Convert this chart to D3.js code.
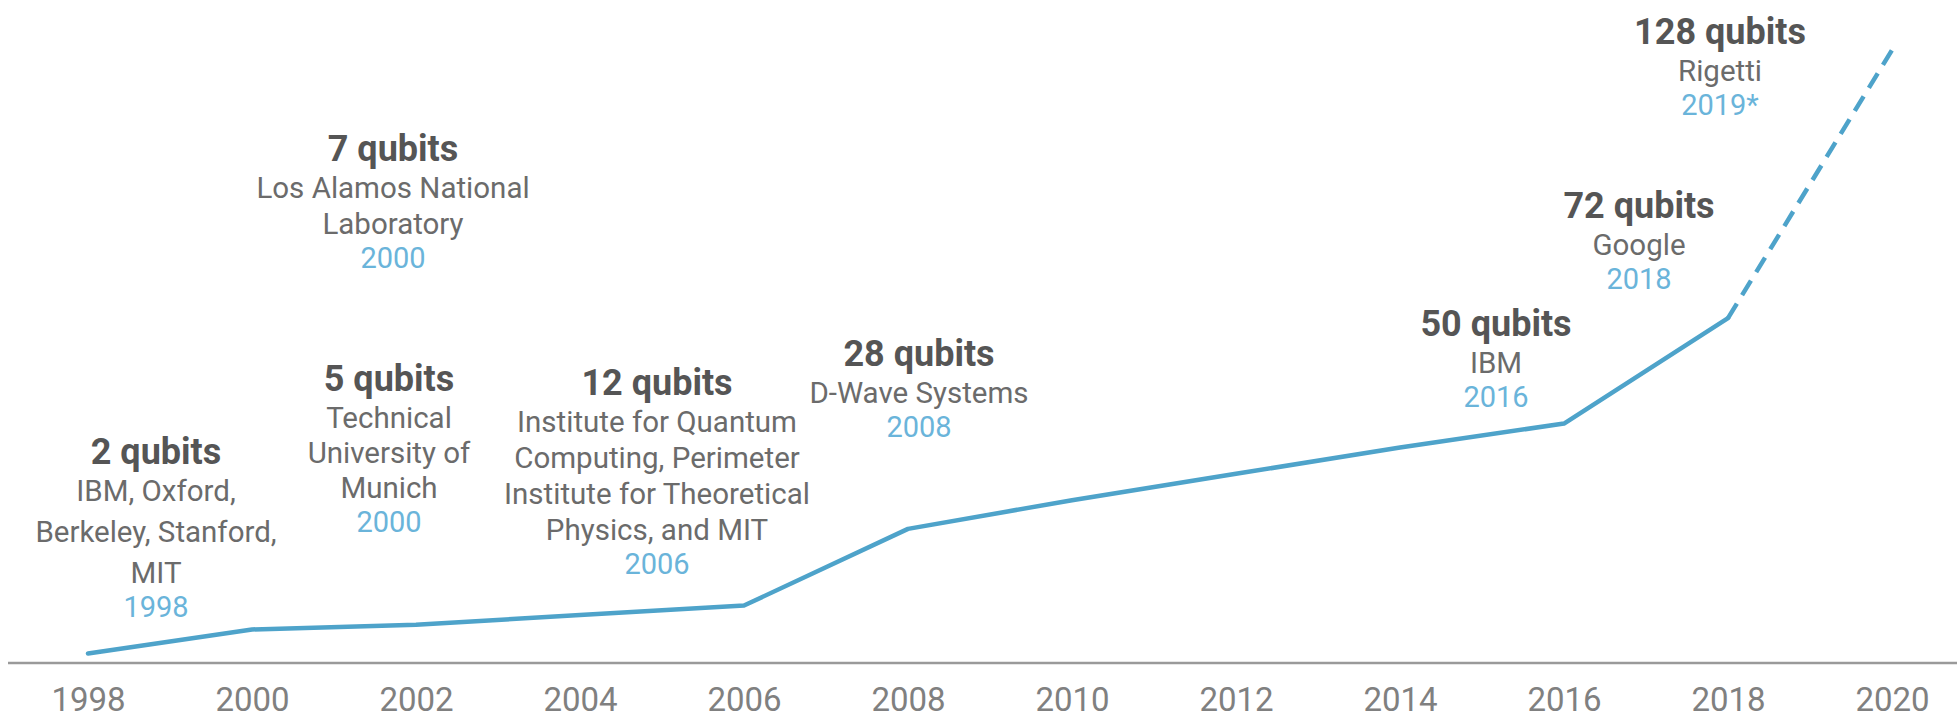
<!DOCTYPE html>
<html>
<head>
<meta charset="UTF-8">
<title>Qubits over time</title>
<script src="https://d3js.org/d3.v7.min.js"></script>
<style>
  body {margin:0; background:#fff;}
  text {font-family: Roboto, sans-serif;}
  .tick text {fill:#808080; font-size:33px;}
  .title {fill:#555; font-weight:bold; font-size:36px;}
  .body {fill:#6b6b6b; font-size:29.5px;}
  .year {fill:#6ab4da; font-size:29px;}
</style>
</head>
<body>
<div id="chart"></div>
<script>
// line values (qubits), one per tick year
var years = [1998, 2000, 2002, 2004, 2006, 2008, 2010, 2012, 2014, 2016, 2018, 2020];
var qubits = [2, 7, 8, 10, 12, 28, 34, 39.5, 45, 50, 72, 128];

// annotations
var noteTitles = ["2 qubits", "5 qubits", "7 qubits", "12 qubits", "28 qubits", "50 qubits", "72 qubits", "128 qubits"];
var noteLines = [
  ["IBM, Oxford,", "Berkeley, Stanford,", "MIT"],
  ["Technical", "University of", "Munich"],
  ["Los Alamos National", "Laboratory"],
  ["Institute for Quantum", "Computing, Perimeter", "Institute for Theoretical", "Physics, and MIT"],
  ["D-Wave Systems"],
  ["IBM"],
  ["Google"],
  ["Rigetti"]
];
var noteYears = ["1998", "2000", "2000", "2006", "2008", "2016", "2018", "2019*"];

// where each annotation sits (title centre) and its line spacing
var notePos = [[156, 451], [389, 378], [393, 148], [657, 382], [919, 353], [1496, 323], [1639, 205], [1720, 31]];
var noteGap = [41, 35, 36, 36, 35, 35, 35, 35];

var width = 1957, height = 721;

var svg = d3.select("#chart").append("svg")
    .attr("width", width)
    .attr("height", height);

var x = d3.scaleLinear().domain([1998, 2020]).range([88, 1892]);
var y = d3.scaleLinear().domain([0, 128]).range([663, 50]);

// baseline
svg.append("line")
    .attr("x1", 8).attr("x2", width)
    .attr("y1", y(0)).attr("y2", y(0))
    .attr("stroke", "#9a9a9a")
    .attr("stroke-width", 2.5);

var axis = svg.append("g")
    .attr("transform", "translate(0," + y(0) + ")")
    .call(d3.axisBottom(x).tickValues(years).tickFormat(d3.format("d")).tickSize(0));
axis.select(".domain").remove();
// put the labels' baseline just above the bottom edge
axis.selectAll(".tick text")
    .attr("font-family", null).attr("font-size", null)
    .attr("dy", null).attr("y", 48);

var line = d3.line()
    .x(function(d, i) {return x(years[i]);})
    .y(function(d) {return y(d);});

var n = qubits.length;
svg.append("path")
    .datum(qubits.slice(0, n - 1))
    .attr("d", line)
    .attr("fill", "none")
    .attr("stroke", "#4ea3ca")
    .attr("stroke-width", 4.5)
    .attr("stroke-linejoin", "round")
    .attr("stroke-linecap", "round");

svg.append("path")
    .datum(qubits.slice(n - 2))
    .attr("d", d3.line()
        .x(function(d, i) {return x(years[n - 2 + i]);})
        .y(function(d) {return y(d);}))
    .attr("fill", "none")
    .attr("stroke", "#4ea3ca")
    .attr("stroke-width", 4.5)
    .attr("stroke-dasharray", "17,10");

// annotations
noteTitles.forEach(function(t, i) {
  var g = svg.append("g").attr("text-anchor", "middle");
  var cx = notePos[i][0], cy = notePos[i][1];
  g.append("text").attr("class", "title")
      .attr("x", cx).attr("y", cy).attr("dy", "0.35em").text(t);
  var yy = cy + 40;
  noteLines[i].forEach(function(s, j) {
    if (j > 0) yy += noteGap[i];
    g.append("text").attr("class", "body")
        .attr("x", cx).attr("y", yy).attr("dy", "0.35em").text(s);
  });
  g.append("text").attr("class", "year")
      .attr("x", cx).attr("y", yy + 34).attr("dy", "0.35em").text(noteYears[i]);
});
</script>
</body>
</html>
